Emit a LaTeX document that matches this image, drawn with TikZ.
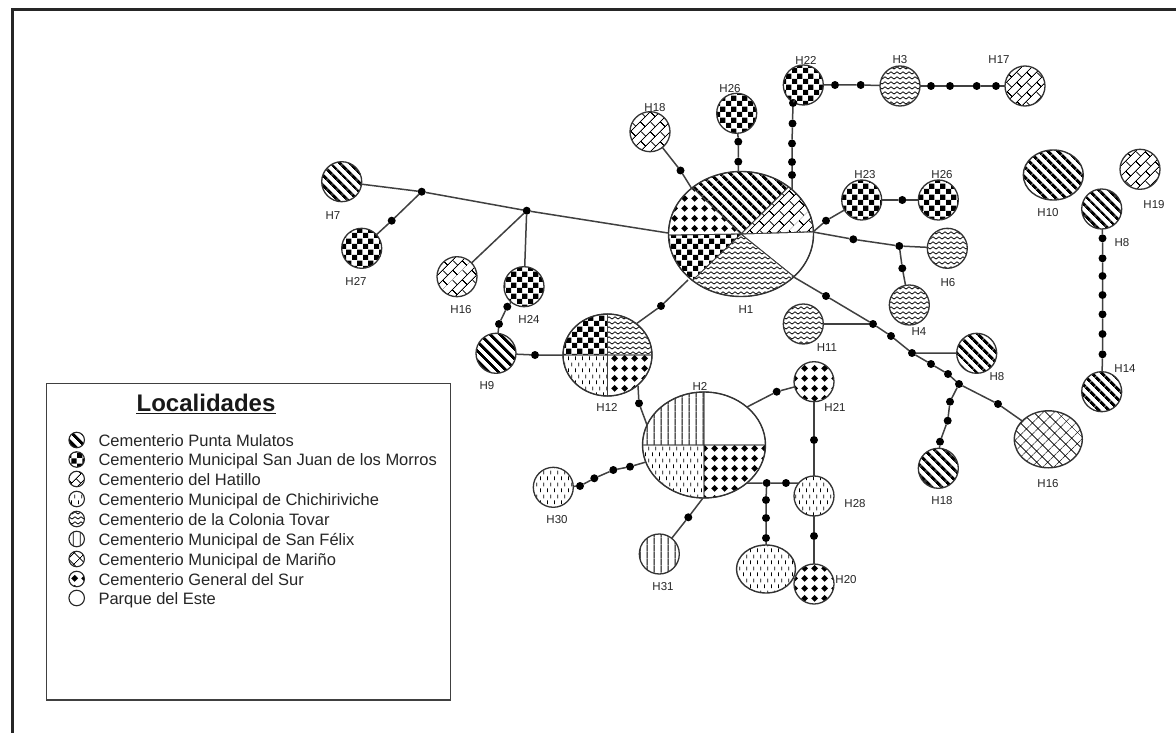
\documentclass[tikz,border=0pt]{standalone}
\usepackage{fontspec}
\setmainfont{Liberation Sans}
\usetikzlibrary{patterns.meta,shapes.geometric}

\tikzdeclarepattern{
  name=pmstripes, type=uncolored,
  bottom left={(0pt,0pt)}, top right={(7.5pt,7.5pt)}, tile size={(7.5pt,7.5pt)},
  tile transformation={rotate=-45},
  code={\fill (0pt,0pt) rectangle (7.5pt,3.4pt);}
}
\tikzdeclarepattern{
  name=checker, type=uncolored,
  bottom left={(0pt,0pt)}, top right={(11pt,11pt)}, tile size={(11pt,11pt)},
  code={\fill (0pt,0pt) rectangle (5.5pt,5.5pt) (5.5pt,5.5pt) rectangle (11pt,11pt);}
}
\tikzdeclarepattern{
  name=bricks, type=uncolored,
  bottom left={(0pt,0pt)}, top right={(14pt,14pt)}, tile size={(14pt,14pt)},
  tile transformation={rotate=45},
  code={\draw[line width=0.9pt] (0pt,0.45pt) -- (14pt,0.45pt) (0pt,7.45pt) -- (14pt,7.45pt) (3.5pt,0pt) -- (3.5pt,7.45pt) (10.5pt,7.45pt) -- (10.5pt,14pt);}
}
\tikzdeclarepattern{
  name=chich, type=uncolored,
  bottom left={(0pt,0pt)}, top right={(7pt,12pt)}, tile size={(7pt,12pt)},
  code={\draw[line width=0.9pt] (1.75pt,1pt) -- (1.75pt,5pt) (5.25pt,7pt) -- (5.25pt,11pt);}
}
\tikzdeclarepattern{
  name=waves, type=uncolored,
  bottom left={(0pt,-2.5pt)}, top right={(6pt,2.5pt)}, tile size={(6pt,5pt)},
  code={\draw[line width=0.75pt] (-0.2pt,-1.2pt) .. controls (1.5pt,-1.2pt) and (1.5pt,1.2pt) .. (3pt,1.2pt) .. controls (4.5pt,1.2pt) and (4.5pt,-1.2pt) .. (6.2pt,-1.2pt);}
}
\tikzdeclarepattern{
  name=vlines, type=uncolored,
  bottom left={(0pt,0pt)}, top right={(7pt,7pt)}, tile size={(7pt,7pt)},
  code={\draw[line width=0.9pt] (3.5pt,-0.5pt) -- (3.5pt,7.5pt);}
}
\tikzdeclarepattern{
  name=xhatch, type=uncolored,
  bottom left={(0pt,0pt)}, top right={(8pt,8pt)}, tile size={(8pt,8pt)},
  tile transformation={rotate=45},
  code={\draw[line width=0.75pt] (-0.5pt,4pt) -- (8.5pt,4pt) (4pt,-0.5pt) -- (4pt,8.5pt);}
}
\tikzdeclarepattern{
  name=diamonds, type=uncolored,
  bottom left={(0pt,0pt)}, top right={(10pt,10pt)}, tile size={(10pt,10pt)},
  code={\fill (5pt,1.3pt) -- (8.7pt,5pt) -- (5pt,8.7pt) -- (1.3pt,5pt) -- cycle;}
}

\newcommand{\piesec}[7]{%
  \path[#7,draw=black!75,line width=0.8pt] (#1,#2) -- +(#5:#3 and #4)
    arc[start angle=#5,end angle=#6,x radius=#3,y radius=#4] -- cycle;}

\begin{document}
\begin{tikzpicture}[x=1pt,y=-1pt,pattern color=black,
  hap/.style={circle,draw=black!80,line width=1.3pt,inner sep=0pt,outer sep=0pt,minimum size=40pt},
  hapE/.style={ellipse,draw=black!80,line width=1.4pt,inner sep=0pt,outer sep=0pt},
  mdot/.style={circle,fill=black,inner sep=0pt,outer sep=0pt,minimum size=8pt},
  con/.style={draw=black!75,line width=1.5pt},
  lab/.style={font=\fontsize{11.5}{13}\selectfont,inner sep=0pt,text=black!85},
  leg/.style={font=\fontsize{16.5}{19}\selectfont,anchor=base west,inner sep=0pt,text=black!85},
  sym/.style={circle,draw=black!85,line width=1.1pt,inner sep=0pt,minimum size=15.5pt},
]
\useasboundingbox (0,0) rectangle (1176,733);
\fill[white] (0,0) rectangle (1176,733);
\draw[line width=3pt,black!85] (12.5,733) -- (12.5,9.5) -- (1176,9.5);

% ---- pies ----
\piesec{741}{234}{72.5}{62.5}{311}{358}{pattern=bricks}
\piesec{741}{234}{72.5}{62.5}{228}{311}{pattern=pmstripes}
\piesec{741}{234}{72.5}{62.5}{179}{228}{pattern=diamonds}
\piesec{741}{234}{72.5}{62.5}{132}{179}{pattern=checker}
\piesec{741}{234}{72.5}{62.5}{43}{132}{pattern=waves}
\piesec{741}{234}{72.5}{62.5}{-2}{43}{}
\node[hapE,minimum width=145pt,minimum height=125pt] (H1) at (741,234) {};

\piesec{704}{445}{61.5}{53}{180}{270}{pattern=vlines}
\piesec{704}{445}{61.5}{53}{270}{360}{}
\piesec{704}{445}{61.5}{53}{90}{180}{pattern=chich}
\piesec{704}{445}{61.5}{53}{0}{90}{pattern=diamonds}
\node[hapE,minimum width=123pt,minimum height=106pt] (H2) at (704,445) {};

\piesec{607.5}{355}{44.5}{41}{180}{270}{pattern=checker}
\piesec{607.5}{355}{44.5}{41}{270}{360}{pattern=waves}
\piesec{607.5}{355}{44.5}{41}{90}{180}{pattern=chich}
\piesec{607.5}{355}{44.5}{41}{0}{90}{pattern=diamonds}
\node[hapE,minimum width=89pt,minimum height=82pt] (H12) at (607.5,355) {};

% ---- haplotype circles ----
\node[hap,pattern=pmstripes] (H7) at (341.7,181.7) {};
\node[hap,pattern=checker] (H27) at (361.7,248.3) {};
\node[hap,pattern=bricks] (H16a) at (457,276.7) {};
\node[hap,pattern=checker] (H24) at (524,286.7) {};
\node[hap,pattern=pmstripes] (H9) at (496,353.3) {};
\node[hap,pattern=bricks] (H18a) at (650,131.7) {};
\node[hap,pattern=checker] (H26a) at (736.7,113.3) {};
\node[hap,pattern=checker] (H22) at (803.3,85) {};
\node[hap,pattern=waves] (H3) at (900,86) {};
\node[hap,pattern=bricks] (H17) at (1025,86) {};
\node[hap,pattern=checker] (H23) at (861.7,200) {};
\node[hap,pattern=checker] (H26b) at (938.3,200) {};
\node[hap,pattern=waves] (H6) at (947.3,248.3) {};
\node[hap,pattern=waves] (H4) at (909.3,305) {};
\node[hap,pattern=waves] (H11) at (803.3,324) {};
\node[hap,pattern=pmstripes] (H8a) at (976.7,353.3) {};
\node[hap,pattern=pmstripes] (H18b) at (938.3,468.3) {};
\node[hapE,pattern=xhatch,minimum width=68pt,minimum height=57pt] (H16b) at (1048.3,439.3) {};
\node[hap,pattern=diamonds] (H21) at (814,381.7) {};
\node[hap,pattern=chich] (H28) at (814,496) {};
\node[hap,pattern=diamonds] (H20) at (814,584) {};
\node[hapE,pattern=chich,minimum width=59pt,minimum height=48pt] (Hx) at (766,569) {};
\node[hap,pattern=chich] (H30) at (553.3,487.3) {};
\node[hap,pattern=vlines] (H31) at (659.3,554) {};
\node[hapE,pattern=pmstripes,minimum width=60pt,minimum height=50pt] (H10) at (1053.3,175) {};
\node[hap,pattern=bricks] (H19) at (1140,169.3) {};
\node[hap,pattern=pmstripes] (H8b) at (1101.7,209) {};
\node[hap,pattern=pmstripes] (H14) at (1101.7,391.7) {};

% ---- contact points ----
\coordinate (c1w) at (668,233);
\coordinate (c1nw) at (692,189);
\coordinate (c1n) at (738.3,172);
\coordinate (c1ne) at (792,190);
\coordinate (c1e) at (813,232);
\coordinate (c1se) at (792,276);
\coordinate (c1sw) at (688,280);
\coordinate (c2nw) at (647,425);
\coordinate (c2w) at (646,462);
\coordinate (c2s) at (703,498);
\coordinate (c2se) at (747,483);
\coordinate (c2ne) at (747,407);
\coordinate (c12w) at (563,355);
\coordinate (c12ne) at (636,324);
\coordinate (c12se) at (638,386);

% ---- mutation dots ----
\foreach \n/\x/\y in {j1/421.7/191.7, j2/526.7/210.7, d27/391.7/220.7, d24a/507.3/306.7, d24b/499/324,
  d9/535/355, d18a/680.5/170.5, d26aa/738.3/161.7, d26ab/738.3/141.7,
  d22a/792/175, d22b/792/162, d22c/792/143.5, d22d/792.5/123.5, d22e/793/103,
  d3a/835/85, d3b/860.7/85, d17a/931/86, d17b/950/86, d17c/976.7/86, d17d/996/86,
  d23/826/220.7, d26b/902.3/200, d6/853.3/239.3, j6/899.3/246, d4/902.3/268.3,
  e1/826/296, jA/873/324, e2/891/336, jB/912/353, e3/931/364, e4/948/374, jC/959/384, e5/998/404,
  f1/950/401.7, f2/947.7/420.7, f3/940/441.7,
  d21/776.7/391.7, d28/814/440, d20/814/536,
  g0/766.7/483, g1/786/483, gx1/766/500, gx2/766/518, gx3/766/538,
  d31/688.3/517.3, d30a/630/466.7, d30b/613.3/470, d30c/594.3/478.3, d30d/580/486,
  d12/639/403.3, d12b/661/306,
  k1/1102.5/238.3, k2/1102.5/258.3, k3/1102.5/276, k4/1102.5/295, k5/1102.5/314.3, k6/1102.5/334, k7/1102.5/354.3}
  {\node[mdot] (\n) at (\x,\y) {};}

% ---- connectors ----
\draw[con] (H7) -- (j1) -- (j2) -- (c1w);
\draw[con] (j1) -- (d27) -- (H27);
\draw[con] (j2) -- (H16a);
\draw[con] (j2) -- (H24);
\draw[con] (H24) -- (d24a) -- (d24b) -- (H9);
\draw[con] (H9) -- (d9) -- (c12w);
\draw[con] (c12ne) -- (d12b) -- (c1sw);
\draw[con] (c12se) -- (d12) -- (c2nw);
\draw[con] (H18a) -- (d18a) -- (c1nw);
\draw[con] (H26a) -- (d26ab) -- (d26aa) -- (c1n);
\draw[con] (c1ne) -- (d22a) -- (d22b) -- (d22c) -- (d22d) -- (d22e) -- (H22);
\draw[con] (H22) -- (d3a) -- (d3b) -- (H3);
\draw[con] (H3) -- (d17a) -- (d17b) -- (d17c) -- (d17d) -- (H17);
\draw[con] (c1e) -- (d23) -- (H23);
\draw[con] (H23) -- (d26b) -- (H26b);
\draw[con] (c1e) -- (d6) -- (j6) -- (H6);
\draw[con] (j6) -- (d4) -- (H4);
\draw[con] (c1se) -- (e1) -- (jA) -- (e2) -- (jB) -- (e3) -- (e4) -- (jC) -- (e5) -- (H16b);
\draw[con] (H11) -- (jA);
\draw[con] (jB) -- (H8a);
\draw[con] (jC) -- (f1) -- (f2) -- (f3) -- (H18b);
\draw[con] (c2ne) -- (d21) -- (H21);
\draw[con] (H21) -- (d28) -- (H28);
\draw[con] (H28) -- (d20) -- (H20);
\draw[con] (c2se) -- (g0) -- (g1) -- (H28.140);
\draw[con] (g0) -- (gx1) -- (gx2) -- (gx3) -- (Hx);
\draw[con] (c2s) -- (d31) -- (H31);
\draw[con] (c2w) -- (d30a) -- (d30b) -- (d30c) -- (d30d) -- (H30);
\draw[con] (H8b) -- (k1) -- (k2) -- (k3) -- (k4) -- (k5) -- (k6) -- (k7) -- (H14);

% ---- labels ----
\foreach \n/\x/\y/\t in {lH7/333/216/H7, lH27/356/281/H27, lH16a/461/310/H16, lH24/529/319/H24,
  lH9/487/386/H9, lH12/607/407/H12, lH1/746/310/H1, lH2/700/386/H2, lH18a/655/108/H18,
  lH26a/730/89/H26, lH22/806/60/H22, lH3/900/60/H3, lH17/999/60/H17, lH23/865/175/H23,
  lH26b/942/175/H26, lH6/948/283/H6, lH4/919/332/H4, lH11/827/348/H11, lH8a/997/377/H8,
  lH18b/942/501/H18, lH16b/1048/484/H16, lH21/835/407/H21, lH28/855/504/H28, lH20/846/580/H20,
  lH30/557/520/H30, lH31/663/587/H31, lH10/1048/213/H10, lH19/1154/205/H19, lH8b/1122/243/H8,
  lH14/1125/369/H14}
  {\node[lab] (\n) at (\x,\y) {\t};}

% ---- legend ----
\draw[line width=1.4pt,black!75] (46.7,383.5) rectangle (450.5,700);
\node[inner sep=0pt,anchor=base,font=\fontsize{24}{27}\selectfont\bfseries,text=black!90] (title) at (206,411) {Localidades};
\draw[line width=1.3pt,black!90] ([yshift=-2.5pt]title.base west) -- ([yshift=-2.5pt]title.base east);
\node[sym,pattern=pmstripes] (s1) at (76.7,440) {};
\node[leg] (t1) at (98.3,446) {Cementerio Punta Mulatos};
\node[sym,pattern=checker] (s2) at (76.7,459.5) {};
\node[leg] (t2) at (98.3,465.5) {Cementerio Municipal San Juan de los Morros};
\node[sym,pattern=bricks] (s3) at (76.7,479) {};
\node[leg] (t3) at (98.3,485) {Cementerio del Hatillo};
\node[sym,pattern=chich] (s4) at (76.7,499) {};
\node[leg] (t4) at (98.3,505) {Cementerio Municipal de Chichiriviche};
\node[sym,pattern=waves] (s5) at (76.7,519) {};
\node[leg] (t5) at (98.3,525) {Cementerio de la Colonia Tovar};
\node[sym,pattern=vlines] (s6) at (76.7,539) {};
\node[leg] (t6) at (98.3,545) {Cementerio Municipal de San Félix};
\node[sym,pattern=xhatch] (s7) at (76.7,559) {};
\node[leg] (t7) at (98.3,565) {Cementerio Municipal de Mariño};
\node[sym,pattern=diamonds] (s8) at (76.7,579) {};
\node[leg] (t8) at (98.3,585) {Cementerio General del Sur};
\node[sym] (s9) at (76.7,598) {};
\node[leg] (t9) at (98.3,604) {Parque del Este};
\end{tikzpicture}
\end{document}
